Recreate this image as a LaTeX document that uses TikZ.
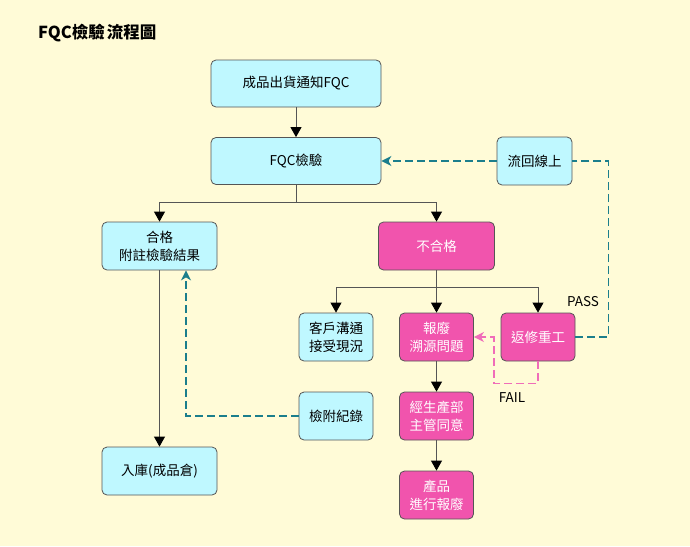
\documentclass[tikz,border=0pt]{standalone}
\usepackage{fontspec}
\setmainfont{Noto Sans CJK TC}
\usetikzlibrary{arrows.meta}
\definecolor{bgcol}{HTML}{FFFBD7}
\definecolor{cyanbox}{HTML}{BFF8FF}
\definecolor{pinkbox}{HTML}{F154AD}
\definecolor{boxedge}{HTML}{555555}
\definecolor{flowline}{HTML}{555555}
\definecolor{tealline}{HTML}{1B7E8C}
\definecolor{pinkline}{HTML}{F06CB9}
\begin{document}
\begin{tikzpicture}[x=1pt,y=-1pt,
  box/.style={draw=boxedge, line width=0.8pt, rounded corners=5pt, align=center,
    font=\fontsize{13.5}{18}\selectfont, inner sep=0pt},
  cbox/.style={box, fill=cyanbox, text=black},
  pbox/.style={box, fill=pinkbox, text=white},
  plain/.style={draw=flowline, line width=0.8pt},
  flow/.style={plain, -{Triangle[width=11pt,length=10pt,color=black]}},
  tealdash/.style={draw=tealline, line width=1.3pt, dash pattern=on 8pt off 4pt},
  pinkdash/.style={draw=pinkline, line width=1.3pt, dash pattern=on 8pt off 4pt},
  lbl/.style={font=\fontsize{13.5}{15}\selectfont, text=black, inner sep=0pt}
]
\useasboundingbox (0,0) rectangle (690,546);
\fill[bgcol] (0,0) rectangle (690,546);

\node[anchor=west, font=\fontsize{16.5}{18}\selectfont\bfseries, inner sep=0pt] (title) at (38,33) {FQC檢驗\hspace{2pt}流程圖};

\node[cbox, minimum width=170pt, minimum height=47pt] (notice) at (296,83.5) {成品出貨通知FQC};
\node[cbox, minimum width=170pt, minimum height=47pt] (fqc) at (296,161) {FQC檢驗};
\node[cbox, minimum width=115pt, minimum height=48pt] (pass) at (159.5,246) {合格\\附註檢驗結果};
\node[pbox, minimum width=116pt, minimum height=48pt] (fail) at (436.5,246) {不合格};
\node[cbox, minimum width=75pt, minimum height=48pt] (back) at (534.5,161) {流回線上};
\node[cbox, minimum width=74pt, minimum height=48pt] (cust) at (336,337) {客戶溝通\\接受現況};
\node[pbox, minimum width=74pt, minimum height=48pt] (scrap) at (436.5,337) {報廢\\溯源問題};
\node[pbox, minimum width=74pt, minimum height=48pt] (rep) at (538,337) {返修重工};
\node[pbox, minimum width=74pt, minimum height=48pt] (agree) at (436.5,416) {經生產部\\主管同意};
\node[pbox, minimum width=74pt, minimum height=48pt] (dest) at (436.5,495) {產品\\進行報廢};
\node[cbox, minimum width=74pt, minimum height=48pt] (rec) at (336,416) {檢附紀錄};
\node[cbox, minimum width=115pt, minimum height=48pt] (store) at (159.5,471) {入庫(成品倉)};

% solid flow
\draw[flow] (notice) -- (fqc);
\draw[plain] (fqc.south) -- ++(0,17) coordinate (j1);
\draw[flow] (j1) -| (pass.north);
\draw[flow] (j1) -| (fail.north);
\draw[plain] (fail.south) -- ++(0,17) coordinate (j2);
\draw[flow] (j2) -| (cust.north);
\draw[flow] (j2) -- (scrap.north);
\draw[flow] (j2) -| (rep.north);
\draw[flow] (scrap) -- (agree);
\draw[flow] (agree) -- (dest);
\draw[flow] (pass) -- (store);

% dashed
\coordinate (passin) at ([xshift=26.5pt]pass.south);
\draw[tealdash, -{Stealth[length=10pt,width=10pt,inset=3pt]}] (rec.west) -| (passin);
\draw[tealdash, -{Stealth[length=10pt,width=10pt,inset=3pt]}] (back.west) -- (fqc.east);
\draw[tealdash] (rep.east) -- ++(33,0) |- (back.east);
\coordinate (fb) at ([yshift=-22pt]rep.south);
\coordinate (fc) at ([xshift=20pt]scrap.east);
\draw[pinkdash, -{Stealth[length=10pt,width=10pt,inset=3pt]}] (rep.south) -- (fb) -| (fc |- fb) -- (fc) -- (scrap.east);

\node[lbl] (passl) at (583,302) {PASS};
\node[lbl] (faill) at (512,398) {FAIL};
\end{tikzpicture}
\end{document}
